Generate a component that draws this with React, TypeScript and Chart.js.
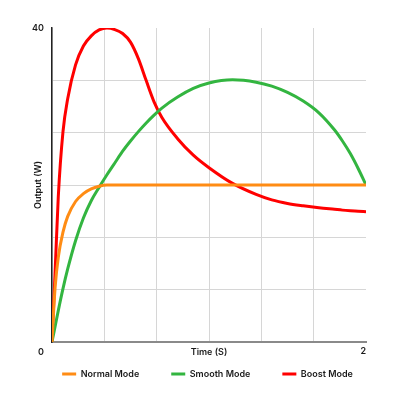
import { useEffect, useRef } from 'react';
import { Chart, registerables } from 'chart.js';

Chart.register(...registerables);

// Time (s) sample points shared by all series
const timeValues = [0, 0.01, 0.02, 0.04, 0.07, 0.1, 0.15, 0.2, 0.25, 0.3, 0.35, 0.4, 0.45, 0.5, 0.55, 0.6, 0.65, 0.7, 0.8, 0.9, 1.0, 1.15, 1.3, 1.4, 1.5, 1.6, 1.7, 1.8, 1.85, 1.9, 1.95, 2.0];
// Output (W)
const normalMode = [0, 3.8, 7.0, 10.8, 14.0, 16.0, 17.9, 18.9, 19.5, 19.85, 20, 20, 20, 20, 20, 20, 20, 20, 20, 20, 20, 20, 20, 20, 20, 20, 20, 20, 20, 20, 20, 20];
const smoothMode = [0, 1.0, 2.0, 4.0, 6.8, 9.3, 12.9, 15.8, 18.0, 19.7, 21.3, 22.8, 24.3, 25.6, 26.8, 27.9, 28.9, 29.8, 31.2, 32.3, 33.0, 33.4, 33.1, 32.6, 31.8, 30.7, 29.2, 27.0, 25.6, 24.0, 22.1, 20.0];
const boostMode = [0, 4.5, 9.0, 18.5, 26.8, 31.0, 35.3, 37.7, 39.0, 39.75, 40.0, 39.8, 39.3, 38.2, 36.1, 33.3, 30.6, 28.6, 25.9, 23.8, 22.2, 20.2, 18.8, 18.1, 17.65, 17.35, 17.1, 16.9, 16.8, 16.72, 16.65, 16.6];

const seriesNames = ['Normal Mode', 'Smooth Mode', 'Boost Mode'];
const seriesColors = ['#ff8c14', '#33b540', '#ff0000'];

const xTickValues = [0, 0.3333, 0.6667, 1, 1.3333, 1.6667, 2];
const xTickLabels = ['', '', '', '', '', '', '2'];
const yTickValues = [0, 6.6667, 13.3333, 20, 26.6667, 33.3333, 40];
const yTickLabels = ['0', '', '', '', '', '', '40'];

const FONT_FAMILY = 'Inter, "Open Sans", sans-serif';
const TEXT = '#1a1a1a';
const GRID = '#d6d6d6';

export default function App() {
  const ref = useRef<HTMLCanvasElement>(null);

  useEffect(() => {
    if (!ref.current) return;
    const font = { family: FONT_FAMILY, size: 9, weight: '600' as const };
    const series = [normalMode, smoothMode, boostMode];

    // move the legend row closer under the axis title and centre it under the plot
    const legendPlace = {
      id: 'legendPlace',
      afterLayout(chart: any) {
        const l = chart.legend;
        if (!l) return;
        const dx = 7.5;
        const dy = -20.5;
        l.left += dx;
        l.right += dx;
        l.top += dy;
        l.bottom = l.top + 70;
      },
    };

    const chart = new Chart(ref.current, {
      type: 'line',
      data: {
        datasets: series.map((vals, s) => ({
          label: seriesNames[s],
          data: timeValues.map((t, i) => ({ x: t, y: vals[i] })),
          borderColor: seriesColors[s],
          backgroundColor: seriesColors[s],
          borderWidth: 3,
          pointRadius: 0,
          cubicInterpolationMode: 'monotone' as const,
          fill: false,
        })),
      },
      options: {
        animation: false,
        responsive: true,
        maintainAspectRatio: false,
        layout: { padding: { top: 20, right: 0, bottom: 18, left: 0 } },
        plugins: {
          tooltip: { enabled: false },
          legend: {
            position: 'bottom',
            maxHeight: 16,
            labels: {
              padding: 32,
              boxWidth: 14,
              boxHeight: 3,
              color: TEXT,
              font,
              generateLabels: (c: any) =>
                (Chart.defaults.plugins.legend.labels.generateLabels as any)(c).map((it: any) => ({
                  ...it,
                  lineWidth: 0,
                })),
            },
          },
        },
        scales: {
          x: {
            type: 'linear',
            min: 0,
            max: 2,
            afterBuildTicks: (scale: any) => {
              scale.ticks = xTickValues.map((v) => ({ value: v }));
            },
            afterFit: (scale: any) => {
              scale.height = 16;
            },
            ticks: {
              autoSkip: false,
              maxRotation: 0,
              align: 'end',
              padding: 4,
              color: TEXT,
              font,
              callback: (_v: any, i: number) => xTickLabels[i],
            },
            grid: {
              drawTicks: false,
              lineWidth: 1,
              color: (ctx: any) => (ctx.index === xTickValues.length - 1 ? 'rgba(0,0,0,0)' : GRID),
            },
            border: { color: '#8a8a8a', width: 2 },
            title: {
              display: true,
              text: 'Time (S)',
              color: TEXT,
              font,
              padding: { top: 0, bottom: 0 },
            },
          },
          y: {
            type: 'linear',
            min: 0,
            max: 40,
            afterBuildTicks: (scale: any) => {
              scale.ticks = yTickValues.map((v) => ({ value: v }));
            },
            afterFit: (scale: any) => {
              scale.width = 44;
            },
            ticks: {
              autoSkip: false,
              padding: 8,
              color: TEXT,
              font: { ...font, lineHeight: '20px' },
              callback: (_v: any, i: number) => (i === 0 ? ['', yTickLabels[i]] : yTickLabels[i]),
            },
            grid: {
              drawTicks: false,
              lineWidth: 1,
              color: (ctx: any) => (ctx.index === yTickValues.length - 1 ? 'rgba(0,0,0,0)' : GRID),
            },
            border: { color: '#222222', width: 1.5 },
            title: {
              display: true,
              text: 'Output (W)',
              color: TEXT,
              font,
              padding: { top: 25, bottom: 0 },
            },
          },
          // empty right-hand spacer axis (keeps the plot's right margin without narrowing the legend)
          yRight: {
            type: 'linear',
            position: 'right',
            min: 0,
            max: 40,
            grid: { display: false },
            ticks: { display: false },
            border: { display: false },
            afterFit: (scale: any) => {
              scale.width = 26;
            },
          },
        },
      },
      plugins: [legendPlace],
    } as any);

    return () => chart.destroy();
  }, []);

  return (
    <div style={{ width: 384, height: 384, position: 'relative' }}>
      <canvas ref={ref} />
    </div>
  );
}
